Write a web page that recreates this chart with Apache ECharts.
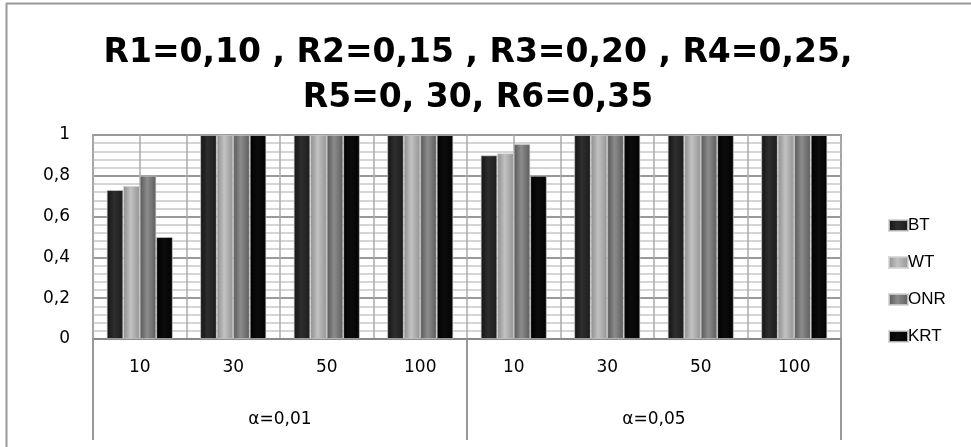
<!DOCTYPE html>
<html>
<head>
<meta charset="utf-8">
<script src="https://cdn.jsdelivr.net/npm/echarts@6/dist/echarts.min.js"></script>
<style>
  html, body { margin: 0; padding: 0; background: #fff; }
  #chart { width: 971px; height: 447px; }
</style>
</head>
<body>
<div id="chart"></div>
<script>
const sizes = ['10', '30', '50', '100', '10', '30', '50', '100'];
const alphas = ['α=0,01', 'α=0,05'];
const yTicks = [0, 0.2, 0.4, 0.6, 0.8, 1];

const bt  = [0.73, 1, 1, 1, 0.90, 1, 1, 1];
const wt  = [0.75, 1, 1, 1, 0.91, 1, 1, 1];
const onr = [0.80, 1, 1, 1, 0.955, 1, 1, 1];
const krt = [0.50, 1, 1, 1, 0.80, 1, 1, 1];

// cylinder-like shading, left -> right
const grad = (a, b, c) => new echarts.graphic.LinearGradient(0, 0, 1, 0, [
  { offset: 0, color: a }, { offset: 0.45, color: b }, { offset: 1, color: c }
]);

const chart = echarts.init(document.getElementById('chart'));

const makeBar = (name, data, color) => ({
  name,
  type: 'bar',
  data,
  xAxisIndex: 0,
  barWidth: 16.5,
  barGap: '0%',
  itemStyle: { color, borderColor: 'rgba(210,210,210,0.8)', borderWidth: 0.8 }
});

chart.setOption({
  animation: false,
  title: {
    text: 'R1=0,10 , R2=0,15 , R3=0,20 , R4=0,25,\nR5=0, 30, R6=0,35',
    left: 473,
    top: 26,
    textAlign: 'center',
    textStyle: {
      fontFamily: 'DejaVu Sans',
      fontWeight: 'bold',
      fontSize: 33,
      lineHeight: 45,
      color: '#000'
    }
  },
  graphic: [
    { type: 'line', shape: { x1: 6, y1: 3.5, x2: 971, y2: 3.5 }, style: { stroke: '#999', lineWidth: 2 } },
    { type: 'line', shape: { x1: 6.5, y1: 3, x2: 6.5, y2: 447 }, style: { stroke: '#999', lineWidth: 2 } }
  ],
  legend: {
    orient: 'vertical',
    left: 883,
    top: 212,
    itemWidth: 19,
    itemHeight: 11,
    itemGap: 20,
    icon: 'rect',
    textStyle: { fontFamily: 'Liberation Sans', fontSize: 17, color: '#000', padding: [0, 0, 0, -5] },
    data: ['BT', 'WT', 'ONR', 'KRT']
  },
  grid: {
    left: 93, right: 130, top: 135, bottom: 108,
    show: true, borderColor: '#999', borderWidth: 2
  },
  xAxis: [
    {
      type: 'category',
      data: sizes,
      position: 'bottom',
      axisLine: { lineStyle: { color: '#888', width: 2 } },
      axisTick: { show: false },
      axisLabel: { margin: 20, fontFamily: 'DejaVu Sans', fontSize: 17, color: '#000', interval: 0 }
    },
    {
      type: 'category',
      data: alphas,
      position: 'bottom',
      axisLine: { show: false },
      axisTick: { show: true, length: 101, lineStyle: { color: '#999', width: 2 } },
      axisLabel: { margin: 72, fontFamily: 'DejaVu Sans', fontSize: 17, color: '#000' }
    },
    {
      type: 'value',
      position: 'top',
      min: 0, max: 16, interval: 1,
      axisLine: { show: false },
      axisTick: { show: false },
      axisLabel: { show: false },
      splitLine: { show: true, lineStyle: { color: '#aaa', width: 1.5 } }
    }
  ],
  yAxis: {
    type: 'value',
    min: 0, max: 1, interval: 0.2,
    axisLine: { show: false },
    axisTick: { show: false },
    axisLabel: {
      margin: 23,
      fontFamily: 'DejaVu Sans', fontSize: 17, color: '#000',
      formatter: v => yTicks.includes(+v.toFixed(1)) ? String(+v.toFixed(1)).replace('.', ',') : ''
    },
    splitLine: { show: true, lineStyle: { color: '#999', width: 2 } },
    minorTick: { show: false, splitNumber: 5 },
    minorSplitLine: { show: true, lineStyle: { color: '#c8c8c8', width: 1.5 } }
  },
  series: [
    makeBar('BT', bt, grad('#141414', '#2e2e2e', '#1c1c1c')),
    makeBar('WT', wt, grad('#8c8c8c', '#c2c2c2', '#939393')),
    makeBar('ONR', onr, grad('#565656', '#8c8c8c', '#5c5c5c')),
    makeBar('KRT', krt, grad('#000000', '#0c0c0c', '#030303'))
  ]
});
</script>
</body>
</html>
